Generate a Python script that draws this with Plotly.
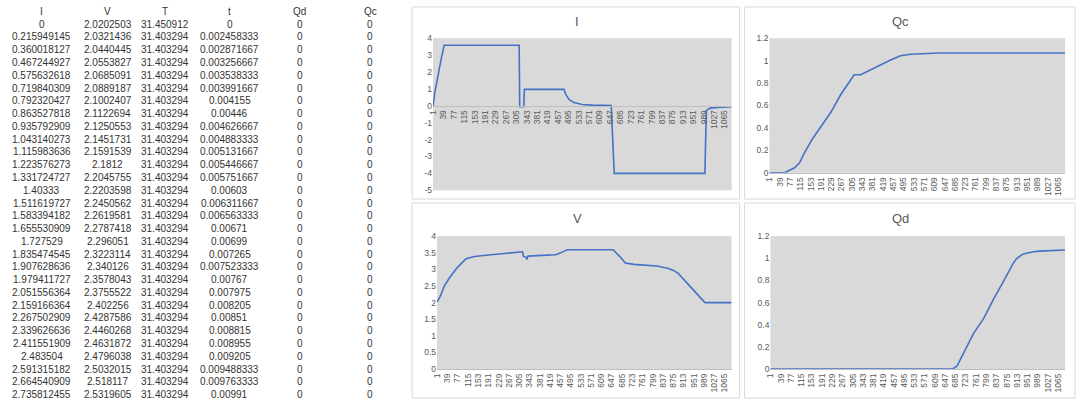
import plotly.graph_objects as go

# first rows of the sheet (shown on the left and used as the start of each series)
col_I = [0, 0.215949145, 0.360018127, 0.467244927, 0.575632618, 0.719840309, 0.792320427,
         0.863527818, 0.935792909, 1.043140273, 1.115983636, 1.223576273, 1.331724727, 1.40333,
         1.511619727, 1.583394182, 1.655530909, 1.727529, 1.835474545, 1.907628636, 1.979411727,
         2.051556364, 2.159166364, 2.267502909, 2.339626636, 2.411551909, 2.483504, 2.591315182,
         2.664540909, 2.735812455]
col_V = [2.0202503, 2.0321436, 2.0440445, 2.0553827, 2.0685091, 2.0889187, 2.1002407, 2.1122694,
         2.1250553, 2.1451731, 2.1591539, 2.1812, 2.2045755, 2.2203598, 2.2450562, 2.2619581,
         2.2787418, 2.296051, 2.3223114, 2.340126, 2.3578043, 2.3755522, 2.402256, 2.4287586,
         2.4460268, 2.4631872, 2.4796038, 2.5032015, 2.518117, 2.5319605]
col_T = [31.450912] + [31.403294] * 29
col_t = [0, 0.002458333, 0.002871667, 0.003256667, 0.003538333, 0.003991667, 0.004155, 0.00446,
         0.004626667, 0.004883333, 0.005131667, 0.005446667, 0.005751667, 0.00603, 0.006311667,
         0.006563333, 0.00671, 0.00699, 0.007265, 0.007523333, 0.00767, 0.007975, 0.008205,
         0.00851, 0.008815, 0.008955, 0.009205, 0.009488333, 0.009763333, 0.00991]
col_Qd = [0] * 30
col_Qc = [0] * 30
headers = ["I", "V", "T", "t", "Qd", "Qc"]

# rest of each curve (row number, value)
I_rows = [41, 315, 317, 332, 334, 479, 485, 497, 515, 545, 582, 648, 651, 662, 993, 998, 1012, 1042, 1090]
I_vals = [3.58, 3.58, -0.06, -0.06, 0.97, 0.97, 0.67, 0.38, 0.19, 0.08, 0.04, 0.02, 0.02, -4.0, -4.0,
          -0.29, -0.14, -0.1, -0.06]

V_rows = [47, 77, 108, 139, 200, 311, 317, 320, 329, 333, 337, 409, 439, 452, 464, 472, 482, 652,
          679, 697, 729, 814, 857, 875, 893, 992, 1090]
V_vals = [2.75, 3.07, 3.32, 3.39, 3.44, 3.51, 3.53, 3.39, 3.37, 3.30, 3.40, 3.43, 3.44, 3.48, 3.51,
          3.55, 3.59, 3.59, 3.37, 3.19, 3.15, 3.10, 3.03, 2.97, 2.88, 2.0, 2.0]

Qc_rows = [57, 69, 93, 111, 129, 160, 190, 227, 264, 294, 313, 337, 361, 410, 447, 484, 521, 582, 631, 1090]
Qc_vals = [0, 0.015, 0.044, 0.087, 0.175, 0.306, 0.408, 0.539, 0.70, 0.80, 0.874, 0.874, 0.904, 0.96,
           1.005, 1.043, 1.057, 1.063, 1.068, 1.068]

Qd_rows = [673, 691, 716, 752, 789, 826, 863, 899, 912, 936, 973, 997, 1090]
Qd_vals = [0, 0.029, 0.147, 0.323, 0.455, 0.632, 0.794, 0.956, 1.0, 1.04, 1.06, 1.065, 1.075]

n_rows = 1090
x_ticks = list(range(1, n_rows + 1, 38))
I_ticks = [-5, -4, -3, -2, -1, 0, 1, 2, 3, 4]
I_ticktext = ["-5", "-4", "-3", "-2", "-1", "0", "1", "2", "3", "4"]

W, H = 1080, 406
head_rows = list(range(1, 31))


def fmt(v):
    return f"{v:.10g}"


def px(x):
    return x / W


def py(y):
    return 1 - y / H


fig = go.Figure()

line = dict(color="#4472C4", width=1.6)
fig.add_trace(go.Scatter(x=head_rows + I_rows, y=col_I + I_vals, mode="lines", line=line,
                         xaxis="x", yaxis="y"))
fig.add_trace(go.Scatter(x=head_rows + Qc_rows, y=col_Qc + Qc_vals, mode="lines", line=line,
                         xaxis="x2", yaxis="y2"))
fig.add_trace(go.Scatter(x=head_rows + V_rows, y=col_V + V_vals, mode="lines", line=line,
                         xaxis="x3", yaxis="y3"))
fig.add_trace(go.Scatter(x=head_rows + Qd_rows, y=col_Qd + Qd_vals, mode="lines", line=line,
                         xaxis="x4", yaxis="y4"))

tick_font = dict(family="Liberation Sans", size=8.5, color="#595959")


def xax(x0, x1, anchor, position=None):
    d = dict(domain=[px(x0), px(x1)], range=[0.5, n_rows + 0.5], tickvals=x_ticks,
             tickangle=-90, tickfont=tick_font, showgrid=False, zeroline=False,
             showline=True, linecolor="#BFBFBF", linewidth=1, ticks="", fixedrange=True)
    if position is None:
        d["anchor"] = anchor
    else:
        d["anchor"] = "free"
        d["position"] = position
    return d


def yax(y0, y1, rng, dtick, anchor):
    return dict(domain=[py(y1), py(y0)], range=rng, dtick=dtick, tickfont=tick_font,
                showgrid=False, zeroline=False, showline=False, ticks="", anchor=anchor,
                fixedrange=True)


layout = dict(
    width=W, height=H, margin=dict(l=0, r=0, t=0, b=0),
    paper_bgcolor="white", plot_bgcolor="#D9D9D9", showlegend=False,
    xaxis=xax(430, 730, "y", position=py(103.3)),
    yaxis=yax(34, 190, [-5, 4], 1, "x"),
    xaxis2=xax(768, 1065, "y2"),
    yaxis2=yax(34, 172, [0, 1.2], 0.2, "x2"),
    xaxis3=xax(434, 730, "y3"),
    yaxis3=yax(237, 373.3, [0, 4], 0.5, "x3"),
    xaxis4=xax(769, 1065, "y4"),
    yaxis4=yax(237, 373.3, [0, 1.2], 0.2, "x4"),
)
fig.update_layout(**layout)
fig.update_yaxes(tickvals=I_ticks, ticktext=I_ticktext, selector=dict(anchor="x"))

# chart cards
panels = [(409, 2, 738, 199), (743, 2, 1075, 199), (409, 203, 738, 403), (743, 203, 1075, 403)]
for x0, y0, x1, y1 in panels:
    fig.add_shape(type="rect", xref="paper", yref="paper", x0=px(x0), x1=px(x1), y0=py(y1), y1=py(y0),
                  line=dict(color="#D9D9D9", width=1), fillcolor="rgba(0,0,0,0)", layer="below")

titles = [("I", 575, 17), ("Qc", 910, 17), ("V", 575, 219), ("Qd", 910, 219)]
for text, x, y in titles:
    fig.add_annotation(text=text, x=px(x), y=py(y), xref="paper", yref="paper", showarrow=False,
                       font=dict(family="Liberation Sans", size=13, color="#595959"),
                       yanchor="middle")

# sheet cells on the left
col_x = [37, 103, 161, 226, 296, 367]
columns = [col_I, col_V, col_T, col_t, col_Qd, col_Qc]
cell_font = dict(family="Liberation Sans", size=10, color="#333333")
for cx, name, values in zip(col_x, headers, columns):
    texts = [name] + [fmt(v) for v in values]
    for r, text in enumerate(texts):
        fig.add_annotation(text=text, x=px(cx), y=py(6.5 + 13.1 * r), xref="paper", yref="paper",
                           showarrow=False, font=cell_font, xanchor="center", yanchor="middle")

fig.write_html("out.html", config={"displayModeBar": False},
               post_script="document.body.style.margin='0px';")
